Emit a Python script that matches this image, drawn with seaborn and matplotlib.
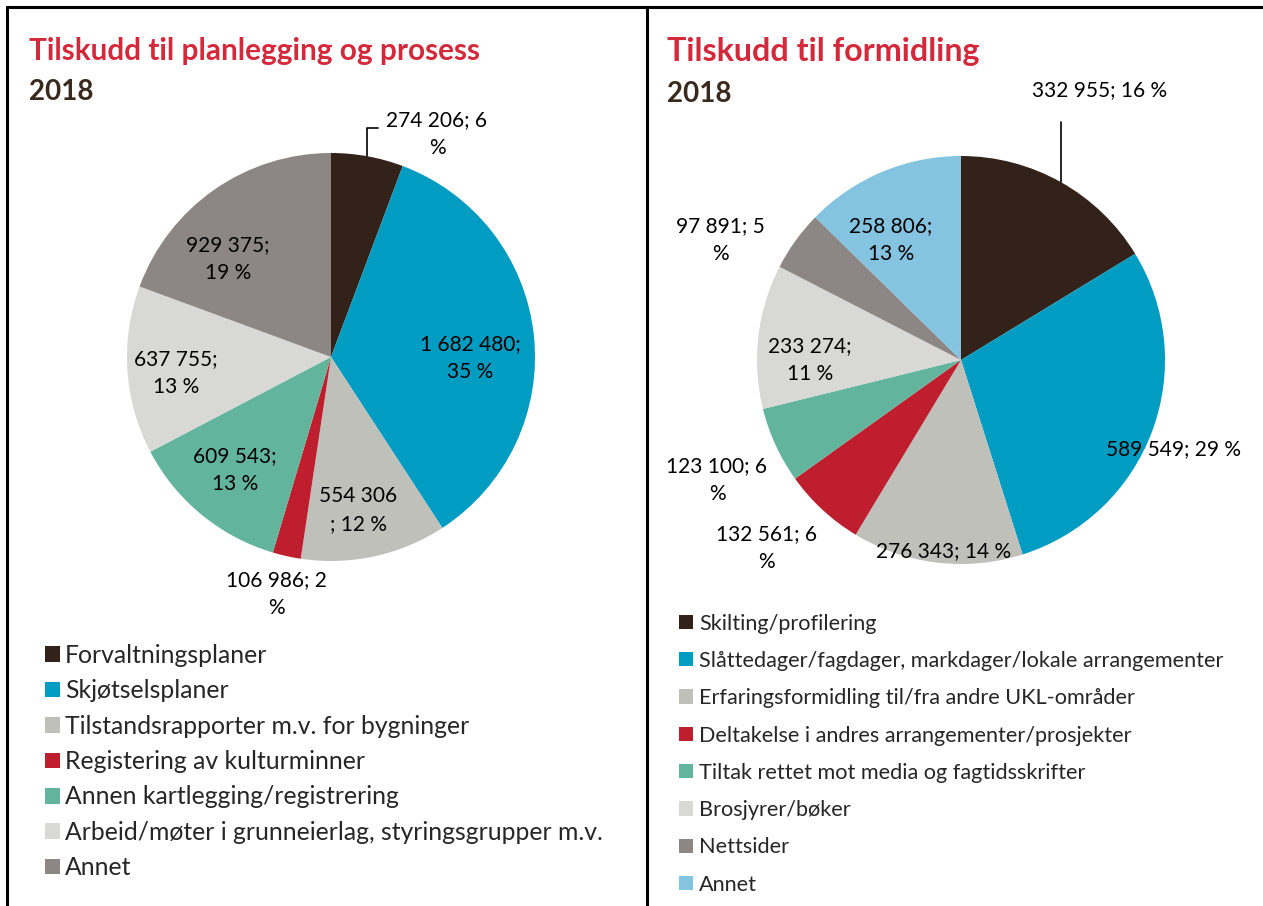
import numpy as np
import matplotlib
matplotlib.use("Agg")
import matplotlib.pyplot as plt
import seaborn as sns
from matplotlib.lines import Line2D

# ============================================================
# DATA
# ============================================================

PLAN_TITLE = "Tilskudd til planlegging og prosess"
PLAN_CATEGORIES = [
    "Forvaltningsplaner",
    "Skjøtselsplaner",
    "Tilstandsrapporter m.v. for bygninger",
    "Registering av kulturminner",
    "Annen kartlegging/registrering",
    "Arbeid/møter i grunneierlag, styringsgrupper m.v.",
    "Annet",
]
PLAN_VALUES = [274206, 1682480, 554306, 106986, 609543, 637755, 929375]

FORM_TITLE = "Tilskudd til formidling"
FORM_CATEGORIES = [
    "Skilting/profilering",
    "Slåttedager/fagdager, markdager/lokale arrangementer",
    "Erfaringsformidling til/fra andre UKL-områder",
    "Deltakelse i andres arrangementer/prosjekter",
    "Tiltak rettet mot media og fagtidsskrifter",
    "Brosjyrer/bøker",
    "Nettsider",
    "Annet",
]
FORM_VALUES = [332955, 589549, 276343, 132561, 123100, 233274, 97891, 258806]

YEAR = "2018"

PLAN_COLORS = ["#33221A", "#009CC2", "#C0C0BB", "#BE1E2D", "#62B59C", "#D8D8D7", "#8C8784"]
FORM_COLORS = ["#33221A", "#009CC2", "#C0C0BB", "#BE1E2D", "#62B59C", "#D8D8D7", "#8C8784", "#85C4E0"]

# ============================================================
# LAYOUT (pixels, figure is 1263 x 906)
# ============================================================

W, H = 1263, 906
R = 204  # pie radius in px

# label block centres (px) and how the original wraps each label
PLAN_LABEL_POS = [(437, 134), (470, 358), (358, 510), (276, 594), (235, 470), (176, 373), (228, 259)]
PLAN_LABEL_BREAK = ["pct_only", "after_semi", "before_semi", "pct_only", "after_semi", "after_semi", "after_semi"]
FORM_LABEL_POS = [(1100, 90), (1174, 449), (944, 551), (766, 548), (717, 480), (810, 360), (720, 240), (891, 240)]
FORM_LABEL_BREAK = ["none", "none", "none", "pct_only", "pct_only", "after_semi", "pct_only", "after_semi"]

TITLE_RED = "#D3293B"
YEAR_BROWN = "#3A2A1E"
LABEL_SIZE = 15


def fx(px):
    return px / W


def fy(py):
    return 1 - py / H


def fmt_label(value, total, mode):
    num = f"{value:,}".replace(",", " ")
    pct = round(100 * value / total)
    if mode == "after_semi":
        return f"{num};\n{pct} %"
    if mode == "before_semi":
        return f"{num}\n; {pct} %"
    if mode == "pct_only":
        return f"{num}; {pct}\n%"
    return f"{num}; {pct} %"


def draw_pie(fig, center, values, colors, label_pos, label_break, leader):
    cx, cy = center
    ax = fig.add_axes([fx(cx - 1.25 * R), fy(cy + 1.25 * R), 2.5 * R / W, 2.5 * R / H])
    wedges, _ = ax.pie(values, colors=colors, startangle=90, counterclock=False,
                       radius=1, wedgeprops=dict(linewidth=0))
    ax.set_xlim(-1.25, 1.25)
    ax.set_ylim(-1.25, 1.25)
    ax.set_aspect("equal")
    ax.axis("off")

    total = sum(values)
    for v, (px, py), mode in zip(values, label_pos, label_break):
        ax.text((px - cx) / R, (cy - py) / R, fmt_label(v, total, mode),
                ha="center", va="center", fontsize=LABEL_SIZE, linespacing=1.5,
                color="black", clip_on=False)

    # leader line from the middle of the first wedge up to its label
    w0 = wedges[0]
    mid = np.deg2rad((w0.theta1 + w0.theta2) / 2)
    x0, y0 = np.cos(mid), np.sin(mid)
    top_y = (cy - leader[0]) / R
    xs, ys = [x0, x0], [y0, top_y]
    if leader[1] is not None:
        xs.append((leader[1] - cx) / R)
        ys.append(top_y)
    ax.plot(xs, ys, color="black", linewidth=1.2, clip_on=False)
    return ax, wedges


sns.set_theme(style="white")
plt.rcParams["font.family"] = ["Lato", "DejaVu Sans"]

fig = plt.figure(figsize=(W / 100, H / 100), dpi=100)
fig.patch.set_facecolor("white")

# panel frame lines
for (x0, y0, x1, y1) in [(7, 7, W, 7), (7, 7, 7, H), (647, 7, 647, H)]:
    fig.add_artist(Line2D([fx(x0), fx(x1)], [fy(y0), fy(y1)], color="black", linewidth=2.2))

# titles
fig.text(fx(29), fy(60), PLAN_TITLE, color=TITLE_RED, fontsize=21.4, fontweight="bold", va="baseline")
fig.text(fx(29), fy(100), YEAR, color=YEAR_BROWN, fontsize=20, fontweight="bold", va="baseline")
fig.text(fx(667), fy(61), FORM_TITLE, color=TITLE_RED, fontsize=23.2, fontweight="bold", va="baseline")
fig.text(fx(667), fy(102.5), YEAR, color=YEAR_BROWN, fontsize=20, fontweight="bold", va="baseline")

plan_palette = sns.color_palette(PLAN_COLORS)
form_palette = sns.color_palette(FORM_COLORS)

_, plan_wedges = draw_pie(fig, (331, 357), PLAN_VALUES, plan_palette,
                          PLAN_LABEL_POS, PLAN_LABEL_BREAK, leader=(128, 378))
_, form_wedges = draw_pie(fig, (961, 360), FORM_VALUES, form_palette,
                          FORM_LABEL_POS, FORM_LABEL_BREAK, leader=(122, None))

legend_kw = dict(loc="upper left", frameon=False, borderpad=0, borderaxespad=0)
fig.legend(plan_wedges, PLAN_CATEGORIES, bbox_to_anchor=(fx(45), fy(644)),
           fontsize=17.8, labelspacing=0.5, handlelength=0.6, handleheight=0.6,
           handletextpad=0.2, **legend_kw)
fig.legend(form_wedges, FORM_CATEGORIES, bbox_to_anchor=(fx(679), fy(613.5)),
           fontsize=15.6, labelspacing=0.8, handlelength=0.65, handleheight=0.65,
           handletextpad=0.28, **legend_kw)

fig.savefig("out.png", dpi=100)
